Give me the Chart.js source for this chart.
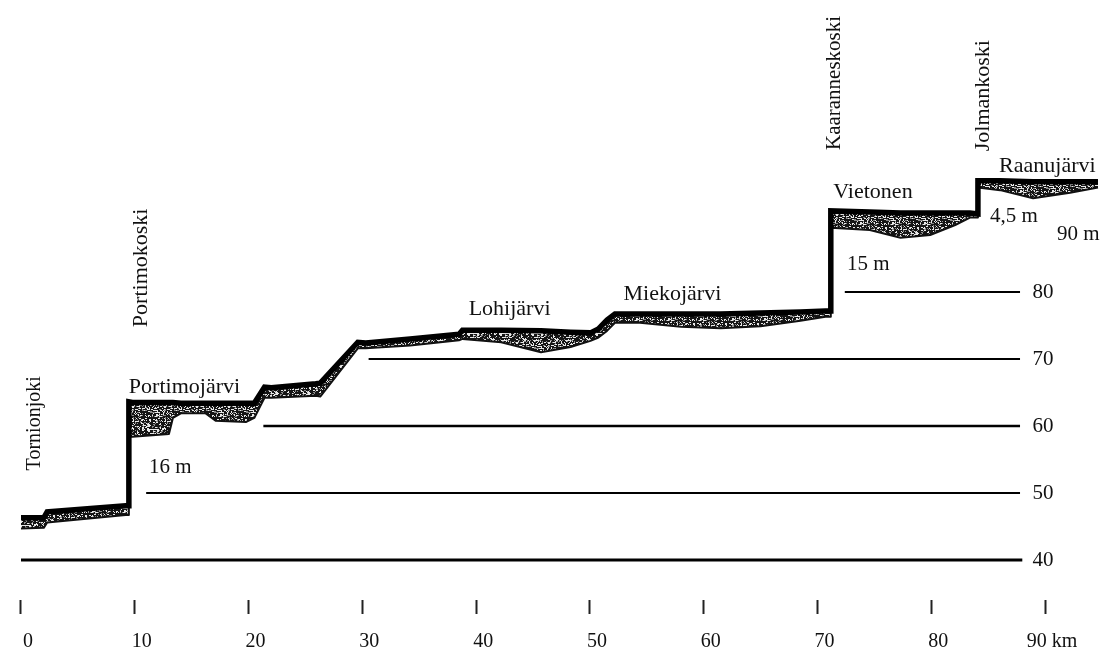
<!DOCTYPE html>
<html><head><meta charset="utf-8">
<script src="https://cdn.jsdelivr.net/npm/chart.js@4.4.1/dist/chart.umd.min.js"></script>
<style>html,body{margin:0;padding:0;background:#fff;overflow:hidden}
#wrap{width:1104px;height:657px;position:relative;background:#fff}</style>
</head><body><div id="wrap"><canvas id="c" width="1104" height="657"></canvas></div>
<script>
// ---- data (km along the river, metres above sea level) ----
const profileKm = [0, 2.0, 2.3, 9.2, 9.48, 9.48, 9.8, 13.0, 13.35, 14.05, 16.2, 17.1, 19.8, 20.5, 21.4, 22.0, 25.9, 26.3, 29.6, 30.3, 34.2, 38.5, 38.8, 42.2, 45.7, 48.3, 50.05, 50.75, 51.5, 52.2, 54.4, 58.0, 61.5, 65.0, 68.5, 70.7, 71.17, 71.17, 74.6, 77.3, 79.9, 82.1, 83.4, 84.1, 84.1, 86.05, 88.95, 92.2, 94.65];
const surfaceM = [46.3, 46.3, 47.2, 48.1, 48.1, 63.6, 63.5, 63.5, 63.5, 63.4, 63.4, 63.4, 63.4, 63.4, 65.8, 65.7, 66.3, 66.4, 72.5, 72.4, 73.0, 73.7, 74.3, 74.3, 74.2, 74.0, 73.9, 74.5, 75.8, 76.7, 76.7, 76.7, 76.7, 76.85, 77.0, 77.15, 77.15, 92.1, 91.95, 91.8, 91.8, 91.8, 91.8, 91.65, 96.6, 96.6, 96.45, 96.45, 96.45];
const bottomM = [44.7, 44.8, 45.6, 46.7, 46.7, 58.4, 58.4, 58.8, 61.2, 61.9, 61.9, 60.8, 60.6, 61.2, 64.2, 64.2, 64.5, 64.4, 71.6, 71.6, 72.0, 72.8, 73.0, 72.5, 71.0, 71.8, 72.7, 73.2, 74.2, 75.4, 75.4, 74.8, 74.6, 74.9, 75.7, 76.3, 76.3, 89.6, 89.25, 88.1, 88.5, 90.0, 91.1, 91.1, 95.6, 95.2, 94.0, 94.8, 95.6];
const levelM = [40, 50, 60, 70, 80];
const levelFromKm = [0, 11.0, 21.3, 30.55, 72.4];
const levelToKm = [88.0, 87.8, 87.8, 87.8, 87.8];
const kmTicks = [0, 10, 20, 30, 40, 50, 60, 70, 80, 90];
const verticalNames = ['Tornionjoki', 'Portimokoski', 'Kaaranneskoski', 'Jolmankoski'];
const lakeNames = ['Portimojärvi', 'Lohijärvi', 'Miekojärvi', 'Vietonen', 'Raanujärvi'];
const dropLabels = ['16 m', '15 m', '4,5 m', '90 m'];

// ---- label anchors (km, m) ----
const verticalAnchors = [[1.25, 60.4], [10.55, 83.6], [71.5, 111.2], [84.6, 109.3]];
const verticalSizes = [20, 22, 21, 22];
const lakeAnchors = [[9.48, 64.9], [39.34, 76.6], [52.95, 78.8], [71.39, 94.0], [85.96, 97.9]];
const dropAnchors = [[11.24, 53.0], [72.6, 83.3], [85.17, 90.45], [91.05, 87.75]];
const levelLabelKm = 88.9;

// speckled lake texture (fixed hash pattern, purely decorative)
function speckle() {
  const n = 32;
  const p = document.createElement('canvas'); p.width = n; p.height = n;
  const g = p.getContext('2d');
  g.fillStyle = '#151515'; g.fillRect(0, 0, n, n);
  for (let i = 0; i < n; i++) for (let j = 0; j < n; j++) {
    let h = (i * 374761393 + j * 668265263) >>> 0;
    h = Math.imul(h ^ (h >>> 13), 1274126177) >>> 0;
    h = ((h ^ (h >>> 16)) >>> 0) % 100;
    if (h < 20) { g.fillStyle = '#e8e8e8'; g.fillRect(i, j, h < 7 ? 2 : 1, 1); }
    else if (h < 30) { g.fillStyle = '#8a8a8a'; g.fillRect(i, j, 1, 1); }
  }
  return g.createPattern(p, 'repeat');
}

const pts = (ys) => profileKm.map((k, i) => ({x: k, y: ys[i]}));
const datasets = [
  {data: pts(surfaceM), borderColor: '#000', borderWidth: 5.5, fill: false, pointRadius: 0, borderJoinStyle: 'miter', order: 0},
  {data: pts(bottomM), borderColor: '#111', borderWidth: 2, fill: '-1', backgroundColor: speckle(), pointRadius: 0, borderJoinStyle: 'round', order: 1}
];
const lvlWidths = [3, 2, 2.5, 2, 2];
levelM.forEach((m, i) => datasets.push({
  data: [{x: levelFromKm[i], y: m}, {x: levelToKm[i], y: m}],
  borderColor: '#000', borderWidth: lvlWidths[i], pointRadius: 0, fill: false, order: 2
}));

const FONT = '"Liberation Serif", "DejaVu Serif", serif';
const textPlugin = {
  id: 'texts',
  afterDatasetsDraw(chart) {
    const {ctx, scales: {x, y}} = chart;
    ctx.save();
    ctx.fillStyle = '#111';
    verticalNames.forEach((t, i) => {
      ctx.save();
      ctx.font = verticalSizes[i] + 'px ' + FONT;
      ctx.translate(x.getPixelForValue(verticalAnchors[i][0]), y.getPixelForValue(verticalAnchors[i][1]));
      ctx.rotate(-Math.PI / 2);
      ctx.textAlign = 'center'; ctx.textBaseline = 'middle';
      ctx.fillText(t, 0, 0);
      ctx.restore();
    });
    ctx.font = '22px ' + FONT;
    ctx.textAlign = 'left'; ctx.textBaseline = 'alphabetic';
    lakeNames.forEach((t, i) => ctx.fillText(t, x.getPixelForValue(lakeAnchors[i][0]), y.getPixelForValue(lakeAnchors[i][1])));
    ctx.font = '21px ' + FONT;
    dropLabels.forEach((t, i) => ctx.fillText(t, x.getPixelForValue(dropAnchors[i][0]), y.getPixelForValue(dropAnchors[i][1])));
    ctx.textBaseline = 'middle';
    levelM.forEach(m => ctx.fillText(String(m), x.getPixelForValue(levelLabelKm), y.getPixelForValue(m)));
    ctx.restore();
  }
};

new Chart(document.getElementById('c'), {
  type: 'line',
  data: {datasets},
  options: {
    responsive: false, animation: false, devicePixelRatio: 1,
    layout: {padding: 0},
    plugins: {legend: {display: false}, tooltip: {enabled: false}},
    elements: {line: {tension: 0}},
    scales: {
      x: {
        type: 'linear', min: -1.756, max: 95.18,
        afterBuildTicks: s => { s.ticks = kmTicks.map(v => ({value: v})); },
        afterFit: s => { s.height = 57; },
        border: {display: false},
        grid: {drawOnChartArea: false, drawTicks: true, tickLength: 14, tickWidth: 2, tickColor: '#222'},
        ticks: {
          color: '#111', padding: 16, labelOffset: 7, maxRotation: 0, autoSkip: false,
          font: {family: FONT, size: 20},
          callback: v => v === 90 ? '90 km' : String(v)
        }
      },
      y: {type: 'linear', min: 34.03, max: 123.58, display: false}
    }
  },
  plugins: [textPlugin]
});
</script></body></html>
